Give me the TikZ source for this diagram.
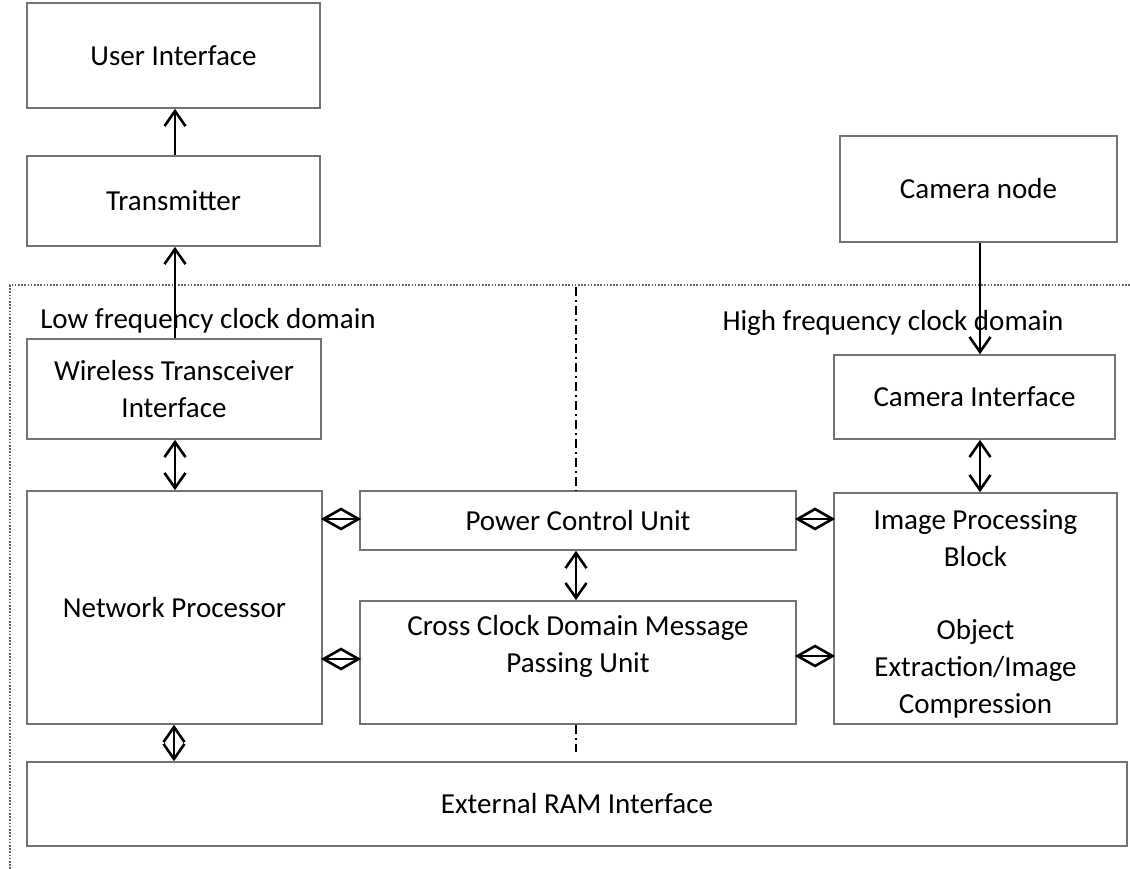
\documentclass[tikz,border=0pt]{standalone}
\usepackage{fontspec}
\setmainfont{Carlito}
\usetikzlibrary{arrows.meta,shapes.geometric}
\begin{document}
\begin{tikzpicture}[x=1pt,y=-1pt,
  box/.style={draw=black!55,fill=white,line width=1.6pt,inner sep=0pt,align=center,font=\fontsize{29}{37}\selectfont},
  txt/.style={inner sep=0pt,align=center,font=\fontsize{29}{37}\selectfont},
  arr/.style={line width=2.6pt,-{Straight Barb[length=15pt,width=21pt,line width=2.6pt]}},
  darr/.style={line width=2.6pt,{Straight Barb[length=15pt,width=21pt,line width=2.6pt]}-{Straight Barb[length=15pt,width=21pt,line width=2.6pt]}},
  dline/.style={line width=2.6pt},
  dashdot/.style={black,line width=1.6pt,dash pattern=on 9pt off 4pt on 2pt off 4pt},
  dia/.style={diamond,draw,line width=2.6pt,minimum width=36pt,minimum height=21pt,inner sep=0pt,fill=none}]
\useasboundingbox (0,0) rectangle (1130,869);
% domain frame
\draw[black!60,line width=1.3pt,dash pattern=on 1.6pt off 1.6pt] (1130,285) -- (10,285) -- (10,869);
\node[txt] (lowlbl) at (208,321) {Low frequency clock domain};
\node[txt] (highlbl) at (893,323) {High frequency clock domain};
% boxes
\node[box,minimum width=293pt,minimum height=105pt] (ui) at (173.5,55.5) {User Interface};
\node[box,minimum width=293pt,minimum height=90pt] (tx) at (173.5,201) {Transmitter};
\node[box,minimum width=277pt,minimum height=106pt] (cam) at (978.5,189) {Camera node};
\node[box,minimum width=294pt,minimum height=100pt] (wti) at (174,389) {Wireless Transceiver\\Interface};
\node[box,minimum width=295pt,minimum height=233pt] (np) at (174.5,607.5) {Network Processor};
\node[box,minimum width=436pt,minimum height=59pt] (pcu) at (578,520.5) {Power Control Unit};
\node[box,minimum width=436pt,minimum height=123pt] (ccd) at (578,662.5) {};
\node[txt] (ccdtext) at (578,646) {Cross Clock Domain Message\\Passing Unit};
\node[box,minimum width=281pt,minimum height=84pt] (ci) at (974.5,397) {Camera Interface};
\node[box,minimum width=283pt,minimum height=231pt] (ipb) at (975.5,608.5) {};
\node[txt] (ipbtext) at (975.5,614) {Image Processing\\Block\\[36pt]Object\\Extraction/Image\\Compression};
\node[box,minimum width=1100pt,minimum height=84pt] (ram) at (577,804) {External RAM Interface};
% helper coordinates
\coordinate (xa) at (175,0);
\coordinate (xc) at (980,0);
\coordinate (xp) at (576,0);
\coordinate (xr) at (174,0);
\coordinate (ya) at (0,519);
\coordinate (yb) at (0,659);
\coordinate (yc) at (0,519);
\coordinate (yd) at (0,656);
\coordinate (dtop) at (576,287);
\coordinate (dbot) at (576,752);
% domain divider (hidden behind the centre boxes)
\draw[dashdot] (dtop) -- (pcu.north -| dtop);
\draw[dashdot] (ccd.south -| dbot) -- (dbot);
% arrows
\draw[arr] (tx.north -| xa) -- (ui.south -| xa);
\draw[arr] (wti.north -| xa) -- (tx.south -| xa);
\draw[arr] (cam.south -| xc) -- (ci.north -| xc);
\draw[darr] (wti.south -| xa) -- (np.north -| xa);
\draw[darr] (pcu.south -| xp) -- (ccd.north -| xp);
\draw[darr] (ci.south -| xc) -- (ipb.north -| xc);
\draw[darr] (np.south -| xr) -- (ram.north -| xr);
% diamond connectors
\draw[dline] (np.east |- ya) -- node[dia] (d1) {} (pcu.west |- ya);
\draw[dline] (np.east |- yb) -- node[dia] (d2) {} (ccd.west |- yb);
\draw[dline] (pcu.east |- yc) -- node[dia] (d3) {} (ipb.west |- yc);
\draw[dline] (ccd.east |- yd) -- node[dia] (d4) {} (ipb.west |- yd);
\end{tikzpicture}
\end{document}
